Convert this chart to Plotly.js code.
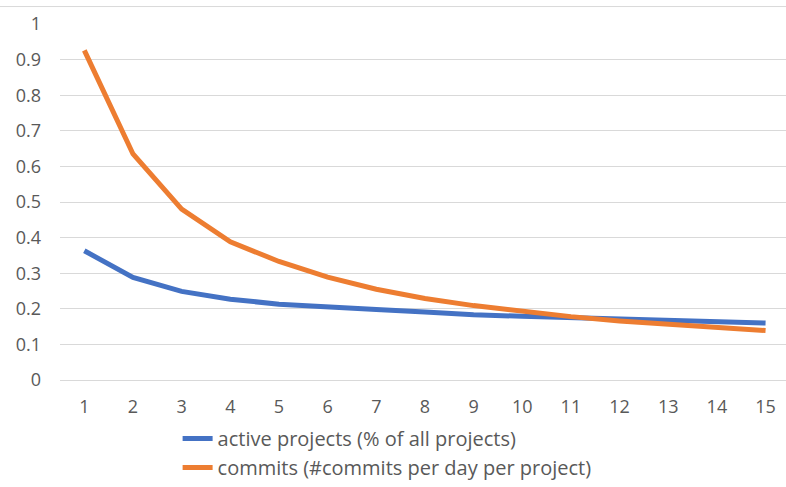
<!DOCTYPE html>
<html>
<head>
<meta charset="utf-8">
<script src="https://cdn.plot.ly/plotly-3.0.1.min.js"></script>
<style>
  html, body { margin: 0; padding: 0; background: #ffffff; }
  #chart { width: 786px; height: 487px; }
</style>
</head>
<body>
<div id="chart"></div>
<script>
// Day index along the x axis
const days = [1, 2, 3, 4, 5, 6, 7, 8, 9, 10, 11, 12, 13, 14, 15];

// Share of projects that are active
const activeProjects = [0.363, 0.288, 0.249, 0.227, 0.213, 0.204, 0.198, 0.191, 0.183, 0.179, 0.175, 0.171, 0.167, 0.164, 0.160];

// Commits per day per project
const commitsPerDay = [0.926, 0.635, 0.480, 0.388, 0.333, 0.289, 0.255, 0.229, 0.209, 0.193, 0.178, 0.166, 0.157, 0.148, 0.139];

const seriesNames = ['active projects (% of all projects)', 'commits (#commits per day per project)'];
const yTicks = [0, 0.1, 0.2, 0.3, 0.4, 0.5, 0.6, 0.7, 0.8, 0.9, 1];
const yTickText = ['0', '0.1', '0.2', '0.3', '0.4', '0.5', '0.6', '0.7', '0.8', '0.9', '1'];

const textColor = '#595959';
const gridColor = '#d9d9d9';
const fontFamily = '"Open Sans", Lato, sans-serif';

const traces = [
  {
    x: days, y: activeProjects, name: seriesNames[0], type: 'scatter', mode: 'lines',
    line: { color: '#4472c4', width: 5 }, legendgroup: 'a'
  },
  {
    x: days, y: commitsPerDay, name: seriesNames[1], type: 'scatter', mode: 'lines',
    line: { color: '#ed7d31', width: 5 }, legendgroup: 'b'
  }
];

const layout = {
  width: 786, height: 487,
  margin: { l: 60, r: 0, t: 24, b: 105 },
  paper_bgcolor: '#ffffff', plot_bgcolor: '#ffffff',
  font: { family: fontFamily, color: textColor, size: 18 },
  showlegend: true,
  legend: {
    orientation: 'v', x: 0.162, xanchor: 'left', y: -0.11, yanchor: 'top',
    font: { family: fontFamily, size: 20, color: textColor },
    tracegroupgap: 6, traceorder: 'normal', bgcolor: 'rgba(0,0,0,0)'
  },
  xaxis: {
    range: [0.5, 15.42], tickvals: days, ticktext: days.map(String),
    showgrid: false, zeroline: false, showline: false, ticks: '',
    ticklabelstandoff: 14, tickfont: { size: 18, color: textColor }
  },
  yaxis: {
    range: [0, 1.0], tickvals: yTicks, ticktext: yTickText,
    showgrid: true, gridcolor: gridColor, gridwidth: 1,
    zeroline: true, zerolinecolor: gridColor, zerolinewidth: 1,
    showline: false, ticks: '', ticklabelstandoff: 18,
    tickfont: { size: 18, color: textColor }
  },
  shapes: [
    {
      type: 'line', xref: 'paper', yref: 'paper',
      x0: -0.09, x1: 1.01, y0: 1.049, y1: 1.049,
      line: { color: gridColor, width: 1 }
    }
  ]
};

Plotly.newPlot('chart', traces, layout, { displayModeBar: false, staticPlot: true });
</script>
</body>
</html>
